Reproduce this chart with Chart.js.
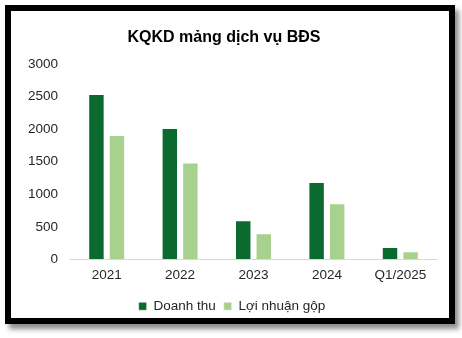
<!DOCTYPE html>
<html lang="vi">
<head>
<meta charset="UTF-8">
<title>KQKD mảng dịch vụ BĐS</title>
<script src="https://cdn.jsdelivr.net/npm/chart.js"></script>
<style>
    body {
        margin: 0;
        background: #fff;
        font-family: "Liberation Sans", Arial, sans-serif;
    }
    #frame {
        position: absolute;
        left: 5px;
        top: 5px;
        width: 438px;
        height: 307px;
        border: 6px solid #000;
        background: #fff;
        box-shadow: 4px 5px 5px rgba(0, 0, 0, 0.45);
    }
    #chart {
        display: block;
    }
</style>
</head>
<body>
<div id="frame">
    <canvas id="chart" width="438" height="307"></canvas>
</div>
<script>
    const categories = ['2021', '2022', '2023', '2024', 'Q1/2025'];
    const doanhThu = [2540, 2020, 600, 1190, 190];
    const loiNhuanGop = [1910, 1490, 400, 860, 125];
    const yTicks = [0, 500, 1000, 1500, 2000, 2500, 3000];

    const font = '"Liberation Sans", Arial, sans-serif';

    // legend sits a bit right of centre in the original
    const shiftLegend = {
        id: 'shiftLegend',
        afterLayout(chart) {
            chart.legend.left += 8;
            chart.legend.right += 8;
        }
    };

    new Chart(document.getElementById('chart'), {
        type: 'bar',
        data: {
            labels: categories,
            datasets: [{
                label: 'Doanh thu',
                data: doanhThu,
                backgroundColor: '#0b6b2e',
                borderColor: 'rgba(255,255,255,0.5)',
                borderWidth: 1
            }, {
                label: 'Lợi nhuận gộp',
                data: loiNhuanGop,
                backgroundColor: '#a9d18e',
                borderColor: 'rgba(255,255,255,0.5)',
                borderWidth: 1
            }]
        },
        options: {
            responsive: false,
            animation: false,
            layout: { padding: { left: 0, right: 12, top: 0, bottom: -5 } },
            datasets: {
                bar: { categoryPercentage: 0.56, barPercentage: 0.8 }
            },
            scales: {
                x: {
                    grid: { display: false, drawTicks: false },
                    border: { display: true, color: '#d9d9d9', width: 1 },
                    ticks: { color: '#262626', font: { family: font, size: 13.5 }, padding: 8 }
                },
                y: {
                    min: 0,
                    max: 3000,
                    afterBuildTicks: axis => { axis.ticks = yTicks.map(v => ({ value: v })); },
                    afterFit: axis => { axis.width = 59; },
                    grid: { display: false, drawTicks: false },
                    border: { display: false },
                    ticks: {
                        color: '#262626',
                        font: { family: font, size: 13.5 },
                        padding: 12,
                        callback: v => String(v)
                    }
                }
            },
            plugins: {
                title: {
                    display: true,
                    text: 'KQKD mảng dịch vụ BĐS',
                    color: '#000',
                    font: { family: font, size: 16, weight: 'bold' },
                    padding: { top: 17, bottom: 17 }
                },
                legend: {
                    position: 'bottom',
                    labels: {
                        color: '#262626',
                        font: { family: font, size: 13.5 },
                        boxWidth: 8,
                        boxHeight: 8,
                        padding: 8
                    }
                },
                tooltip: { enabled: false }
            }
        },
        plugins: [shiftLegend]
    });
</script>
</body>
</html>
